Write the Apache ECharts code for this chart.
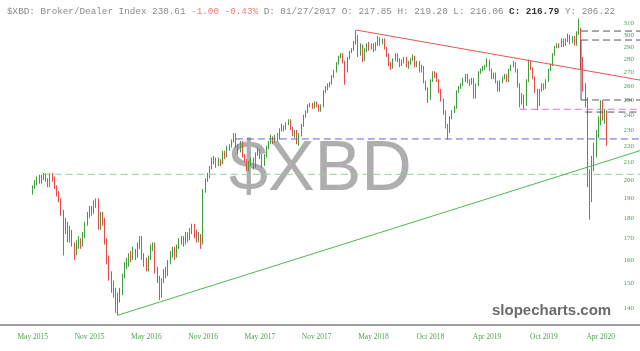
<!DOCTYPE html>
<html><head><meta charset="utf-8">
<script src="https://cdn.jsdelivr.net/npm/echarts@6/dist/echarts.min.js"></script>
<style>html,body{margin:0;padding:0;background:#fff}#c{width:640px;height:351px}</style>
</head><body><div id="c"></div>
<script>
// weekly candles [open, close, low, high], first one sits at week index 15
const firstCandle = 15;
const weekCount = 294;
const candles = [
[193,196,192,197],[196,199,195,200],[199,201,197,202],[201,199,198,203],[199,202,198,203],
[202,203,200,204],[203,200,199,204],[200,197,196,201],[197,203,196,204],[203,201,199,204],
[201,196,195,202],[196,193,191,197],[193,189,188,194],[189,183,181,190],[183,175,162,184],
[175,176,172,180],[176,170,168,178],[170,173,168,176],[173,167,166,174],[167,163,160,168],
[163,167,162,169],[167,169,165,171],[169,167,165,170],[167,171,166,173],[171,177,170,178],
[177,181,176,183],[181,185,180,186],[185,183,181,186],[183,187,182,189],[187,189,185,190],
[189,176,174,190],[176,181,174,183],[181,179,176,183],[179,169,167,180],[169,161,158,170],
[161,153,151,162],[153,149,146,155],[149,146,144,151],[146,141,138,148],[141,144,137,146],
[144,146,142,148],[146,153,145,154],[153,158,152,159],[158,159,156,161],[159,162,157,163],
[162,161,159,164],[161,164,160,166],[164,162,160,165],[162,167,161,168],[167,170,165,171],
[170,162,160,171],[162,159,157,163],[159,156,155,161],[156,161,155,162],[161,165,160,167],
[165,167,164,168],[167,156,154,168],[156,152,150,157],[152,145,143,153],[145,151,144,152],
[151,155,150,156],[155,154,152,157],[154,159,153,160],[159,162,158,164],[162,165,161,166],
[165,162,160,166],[162,166,161,167],[166,168,165,170],[168,170,167,171],[170,168,166,171],
[168,172,167,173],[172,170,168,173],[170,174,169,175],[174,176,172,177],[176,172,170,177],
[172,169,168,174],[169,171,168,173],[171,167,165,172],[168,194,167,195],[194,200,193,201],
[200,202,199,204],[202,207,201,208],[207,211,206,213],[211,212,209,214],[212,209,207,213],
[209,211,208,213],[211,210,208,212],[210,216,209,217],[216,214,212,217],[214,218,213,220],
[218,220,217,221],[220,223,219,224],[223,227,222,228],[227,220,219,228],[220,217,215,221],
[217,222,216,223],[222,214,213,223],[214,211,210,215],[211,207,205,212],[207,210,205,211],
[210,212,208,213],[212,208,206,213],[208,215,207,216],[215,217,214,219],[217,214,212,218],
[214,209,207,215],[209,214,208,215],[214,219,213,220],[219,222,218,223],[222,225,221,227],
[225,223,221,226],[223,226,222,227],[226,225,223,228],[225,230,224,231],[230,232,229,234],
[232,231,229,233],[231,234,230,235],[234,236,233,237],[236,231,230,237],[231,227,226,232],
[227,229,225,230],[229,224,221,230],[224,227,220,228],[227,233,226,234],[233,239,232,240],
[239,242,238,243],[242,246,241,247],[246,247,245,248],[247,245,244,248],[245,248,244,249],
[248,246,245,249],[246,243,242,247],[243,246,242,247],[246,256,245,257],[256,258,255,260],
[258,261,257,262],[260,262,259,263],[262,267,261,268],[267,271,266,272],[271,277,270,278],
[277,282,276,283],[282,284,281,285],[284,278,277,285],[278,271,261,279],[271,281,270,282],
[281,286,280,287],[286,288,285,289],[288,294,287,295],[294,298,292,304],[298,284,282,300],
[284,291,283,293],[291,280,278,292],[280,288,279,289],[288,292,286,293],[292,289,287,294],
[289,292,288,293],[292,288,286,293],[288,292,287,294],[292,297,291,299],[297,293,291,298],
[293,296,292,297],[296,289,288,297],[289,284,282,290],[284,276,275,285],[276,274,272,278],
[274,280,273,281],[280,284,279,285],[284,280,278,285],[280,276,274,281],[276,278,275,280],
[278,281,277,282],[281,275,274,282],[275,278,273,279],[278,280,276,281],[280,282,279,284],
[282,275,274,283],[275,278,274,279],[278,272,270,279],[272,274,270,276],[274,263,262,275],
[263,258,257,264],[258,251,248,259],[251,264,250,265],[264,270,263,271],[270,268,266,271],
[268,264,263,270],[264,257,255,265],[257,250,249,258],[250,242,240,251],[242,233,231,243],
[233,229,224,234],[229,238,228,239],[238,242,237,243],[242,245,241,246],[245,256,244,257],
[256,259,255,260],[259,261,258,262],[261,264,260,266],[264,268,263,269],[268,264,262,269],
[264,262,260,265],[262,265,261,266],[265,252,251,266],[252,261,251,262],[261,270,260,271],
[270,272,269,273],[272,273,271,275],[273,275,272,276],[275,279,274,281],[279,272,271,280],
[272,266,265,273],[266,269,265,270],[269,263,262,270],[263,257,256,264],[257,263,256,264],
[263,266,262,267],[266,268,265,269],[268,264,263,269],[264,272,263,273],[272,275,271,276],
[275,277,274,279],[277,272,270,278],[272,261,259,273],[261,250,245,262],[250,253,247,255],
[253,247,244,254],[247,264,246,265],[264,278,263,280],[278,273,272,279],[273,266,265,274],
[266,257,255,267],[257,247,243,258],[247,257,246,258],[257,261,256,262],[261,259,257,262],
[259,264,258,265],[264,272,263,273],[272,276,271,277],[276,284,275,285],[284,290,283,291],
[290,292,289,293],[292,291,289,293],[291,296,290,297],[296,292,290,297],[292,296,291,297],
[296,299,294,301],[299,294,292,300],[294,298,293,299],[298,292,291,299],[292,302,291,303],
[302,305,300,314],[305,276,272,306],[276,259,256,282],[259,250,245,262],[250,203,196,252],
[203,192,179,206],[192,211,188,214],[211,217,205,222],[217,227,213,230],[227,235,225,239],
[235,244,233,250],[244,238,236,250],[238,242,234,244],[242,224,220,243]
];
const xTickLabels = ['May 2015','Nov 2015','May 2016','Nov 2016','May 2017','Nov 2017',
  'May 2018','Oct 2018','Apr 2019','Oct 2019','Apr 2020'];
const xTickFirst = 15, xTickStep = 26;
const yTickValues = [140,150,160,170,180,190,200,210,220,230,240,250,260,270,280,290,300,310];

// drawn trend lines and levels: [weekIndex, price]
const trendUp = [[54, 137.1], [293, 217.1]];
const trendDown = [[163, 304.1], [293, 264.4]];
const levelGreen = [[20, 203.2], [293, 203.2]];
const levelBlue = [[108, 224.3], [293, 224.3]];
const levelMagenta = [[238, 243.7], [293, 243.7]];
const levelBlackA = [[266, 303.2], [293, 303.2]];
const levelBlackB = [[266, 295.7], [293, 295.7]];
const levelBlackC = [[266, 250.1], [293, 250.1]];
const levelBlackD = [[268, 241.8], [293, 241.8]];
const boxEdge = [[266, 295.7], [266, 250.1]];

// categories: one per week
const categories = [];
const d0 = new Date(Date.UTC(2015, 0, 30));
for (let i = 0; i < weekCount; i++) {
  const d = new Date(d0.getTime() + i * 7 * 86400000);
  categories.push(d.toISOString().slice(0, 10));
}
const candleData = categories.map((c, i) => {
  const k = i - firstCandle;
  return (k >= 0 && k < candles.length) ? candles[k] : '-';
});

function lineSeries(data, color, type, width) {
  return {
    type: 'line', data: data, symbol: 'none', silent: true, z: 3,
    lineStyle: { color: color, width: width || 1, type: type === 'dash' ? [7, 4] : 'solid' },
    animation: false
  };
}

const chart = echarts.init(document.getElementById('c'), null, { renderer: 'canvas' });
chart.setOption({
  animation: false,
  backgroundColor: '#fff',
  title: {
    left: 2, top: 2,
    text: '{g|$XBD: Broker/Dealer Index 230.61 }{r|-1.00 -0.43%}{g| D: 01/27/2017 O: 217.85 H: 219.20 L: 216.06 }{b|C: 216.79}{g| Y: 206.22}',
    textStyle: {
      fontFamily: 'Liberation Mono', fontSize: 9.3, fontWeight: 'normal',
      rich: {
        g: { fontFamily: 'Liberation Mono', fontSize: 9.3, color: '#8a8a8a' },
        r: { fontFamily: 'Liberation Mono', fontSize: 9.3, color: '#ee7b7b' },
        b: { fontFamily: 'Liberation Mono', fontSize: 9.3, color: '#333', fontWeight: 'bold' }
      }
    }
  },
  graphic: [
    { type: 'text', left: 229, top: 136, z: 0, silent: true,
      style: { text: '$XBD', fontFamily: 'Liberation Sans', fontSize: 70, fill: 'rgba(160,160,160,0.85)' } },
    { type: 'text', left: 492, top: 303, z: 0, silent: true,
      style: { text: 'slopecharts.com', fontFamily: 'Liberation Sans', fontWeight: 'bold', fontSize: 15, fill: '#6b6b6b' } }
  ],
  grid: { left: 0, right: 0, top: 15, bottom: 26 },
  xAxis: {
    type: 'category', data: categories, boundaryGap: false,
    axisLine: { lineStyle: { color: '#a0a0a0', width: 2 } },
    axisTick: { show: false },
    splitLine: { show: false },
    axisLabel: {
      margin: 8, fontFamily: 'Liberation Serif', fontSize: 7.5, color: '#4f9f4f',
      interval: (idx) => idx >= xTickFirst && (idx - xTickFirst) % xTickStep === 0 && (idx - xTickFirst) / xTickStep < xTickLabels.length,
      formatter: (val, idx) => xTickLabels[(idx - xTickFirst) / xTickStep] || ''
    }
  },
  yAxis: {
    type: 'log', position: 'right', min: 133.4, max: 317.1,
    axisLine: { show: false }, axisTick: { show: false }, splitLine: { show: false },
    axisLabel: {
      inside: true, margin: 6, customValues: yTickValues,
      fontFamily: 'Liberation Serif', fontSize: 7, color: '#4f9f4f',
      formatter: (v) => String(Math.round(v))
    }
  },
  series: [
    {
      type: 'candlestick', data: candleData, barWidth: 1.3, z: 2,
      itemStyle: { color: '#3f9f3f', color0: '#e84a4a', borderColor: '#3f9f3f', borderColor0: '#e84a4a', borderWidth: 1 }
    },
    lineSeries(levelGreen, '#8ed68e', 'dash'),
    lineSeries(levelBlue, '#6262dc', 'dash'),
    lineSeries(levelMagenta, '#d874d8', 'dash'),
    lineSeries(levelBlackA, '#555', 'dash'),
    lineSeries(levelBlackB, '#555', 'dash'),
    lineSeries(levelBlackC, '#555', 'dash'),
    lineSeries(levelBlackD, '#555', 'dash'),
    lineSeries(boxEdge, '#555', 'solid'),
    lineSeries(trendDown, '#e55353', 'solid'),
    lineSeries(trendUp, '#4fb84f', 'solid')
  ]
});
</script>
</body></html>
